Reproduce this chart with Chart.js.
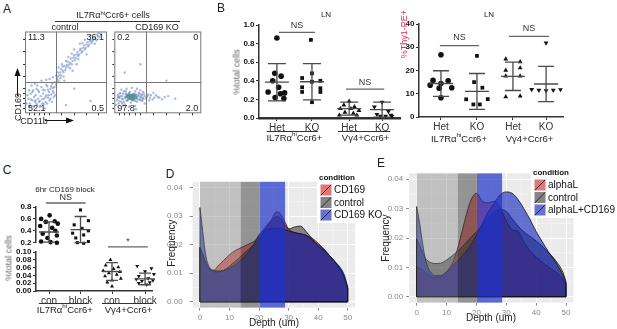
<!DOCTYPE html>
<html>
<head>
<meta charset="utf-8">
<script src="https://cdn.jsdelivr.net/npm/chart.js@4.4.1/dist/chart.umd.min.js"></script>
<style>
  body { margin: 0; background: #fff; }
  #fig { position: relative; width: 617px; height: 329px; overflow: hidden; font-family: "Liberation Sans", Arial, sans-serif; color: #222; }
  #fig canvas { position: absolute; }
  .t { position: absolute; white-space: nowrap; line-height: 1; }
  sup { font-size: 65%; vertical-align: 0; position: relative; top: -0.5em; }
</style>
</head>
<body>
<div id="fig">
<svg width="617" height="329" style="position:absolute;left:0;top:0">
  <line x1="55" y1="21.5" x2="180" y2="21.5" stroke="#333" stroke-width="1"/>
  <line x1="17.5" y1="96" x2="17.5" y2="75" stroke="#111" stroke-width="1"/>
  <polygon points="17.5,68 14.5,76 20.5,76" fill="#111"/>
  <line x1="45" y1="120.5" x2="67" y2="120.5" stroke="#111" stroke-width="1"/>
  <polygon points="74,120.5 66,117.5 66,123.5" fill="#111"/>
</svg>
</div>
<script>
// ---------- A: flow plots, [CD11b, CD169] in % of axis ----------
const controlCells = [[4,18],[6,12],[7,24],[8,8],[9,16],[10,28],[11,20],[12,14],[13,22],[14,30],[15,10],[16,18],
  [17,26],[18,15],[19,21],[20,32],[21,12],[22,24],[23,18],[24,28],[25,14],[26,22],[27,33],[28,19],[29,26],[30,16],
  [31,30],[32,23],[33,36],[34,27],[35,20],[36,38],[5,28],[8,34],[12,36],[3,22],[18,8],[24,6],[15,34],[20,40],[26,41],
  [30,42],[34,44],[38,46],[40,50],[42,47],[44,54],[46,52],[48,58],[50,56],[52,63],[54,60],[56,67],[58,64],[60,71],
  [62,68],[64,75],[66,72],[68,79],[70,76],[72,83],[74,80],[76,87],[78,84],[80,90],[82,88],[84,93],[86,91],[88,96],
  [45,60],[50,64],[55,55],[60,78],[65,66],[70,86],[75,72],[80,95],[41,56],[57,73],[63,60],[73,90],[85,85],[90,98],
  [47,45],[53,69],[67,85],[39,42],[43,43],[58,52],[48,40],[60,30],[80,15],[50,10],
  [2,12],[5,9],[7,17],[9,26],[11,8],[13,16],[14,12],[16,28],[17,14],[19,9],[21,17],[22,29],[23,11],[25,20],[26,35],
  [27,12],[28,29],[29,22],[31,18],[32,33],[33,14],[34,31],[35,25],[36,32],[37,22],[38,35],[39,38],[40,45],[41,40],
  [43,50],[44,46],[46,57],[47,50],[49,53],[51,59],[53,57],[55,62],[57,60],[59,68],[61,65],[63,72],[65,70],[67,77],
  [69,74],[71,80],[73,78],[75,84],[77,82],[79,88],[81,86],[83,90],[87,89],[89,94],[91,93],[93,97]];
const koCells = [[3,16],[4,22],[5,12],[6,19],[7,25],[8,14],[9,21],[10,17],[11,27],[12,11],[13,20],[14,24],[15,15],
  [16,22],[17,18],[18,26],[19,13],[20,20],[21,23],[22,16],[23,21],[24,27],[25,18],[26,14],[27,22],[28,25],[29,17],
  [30,20],[31,23],[32,15],[33,19],[34,24],[36,18],[38,21],[40,16],[42,22],[46,19],[50,20],[55,17],[62,21],[70,18],
  [8,29],[14,30],[20,31],[26,30],[10,9],[17,8],[24,9],[30,28],[5,20],[2,10],[35,12],[45,25],[25,5],[60,40],[30,60],[12,50],
  [4,19],[6,15],[7,21],[9,18],[10,24],[11,14],[12,19],[13,23],[14,16],[15,21],[16,17],[17,25],[18,19],[19,22],[20,16],
  [21,20],[22,24],[23,18],[24,15],[25,23],[26,19],[27,17],[28,21],[29,24],[30,16],[31,19],[32,22],[33,17],[35,21],
  [37,19],[39,23],[41,19],[44,17],[48,22],[52,19],[58,20],[6,24],[9,12],[13,27],[33,26]];
const koCore = [[14,20],[16,19],[18,21],[20,19],[22,20],[24,21],[17,23],[21,17],[19,18],[23,23],
  [15,21],[17,20],[19,22],[21,21],[23,19],[18,18],[20,22],[22,18],[16,22],[25,20]];
const flowTicks = [6,12,18,24,30,45,60,75,90];
const controlGate = [37.8, 37.8];
const koGate = [36.8, 37.8];
const controlQuadrants = ['11.3', '36.1', '52.1', '0.5'];
const koQuadrants = ['0.2', '0', '97.8', '2.0'];

// ---------- B: LN ----------
const bTickLabels = ['Het', 'KO', 'Het', 'KO'];
const groupLabels = ['IL7Rα^hi^Ccr6+', 'Vγ4+Ccr6+'];
const totalTicks = [0, 0.2, 0.4, 0.6, 0.8, 1.0];
const totalVals = [
  [0.86, 0.48, 0.45, 0.40, 0.33, 0.28, 0.27, 0.26, 0.22, 0.21],
  [0.84, 0.48, 0.43, 0.40, 0.39, 0.33, 0.32, 0.28, 0.28, 0.17],
  [0.18, 0.14, 0.12, 0.10, 0.10, 0.08, 0.06, 0.05, 0.03, 0.03],
  [0.17, 0.12, 0.07, 0.04, 0.03, 0.02, 0.02, 0.02]
];
const totalJitter = [
  [0, -0.06, 0.12, -0.12, 0.05, -0.25, 0.22, 0.1, -0.05, 0.2],
  [-0.03, 0, -0.28, 0.24, 0, -0.28, 0.24, -0.28, 0.24, 0],
  [0, -0.15, 0.15, -0.25, 0.05, 0.28, -0.12, 0.12, -0.28, 0.22],
  [0, -0.22, 0.18, -0.15, 0.25, -0.05, 0.28, 0.1]
];
const totalMean = [0.385, 0.39, 0.10, 0.09];
const totalSd = [0.20, 0.195, 0.07, 0.08];

const thyTicks = [0, 10, 20, 30, 40];
const thyVals = [
  [26.8, 15.8, 15.6, 14.4, 13.7, 12.6, 12.4, 8.3],
  [26.3, 15, 12.6, 7.6, 7.7, 5.4, 5.4],
  [24.9, 23.7, 21.1, 20.1, 17.6, 17.6, 8.7, 9],
  [31.9, 11.9, 11.5, 11.3, 11.5, 11.8]
];
const thyJitter = [
  [0, -0.22, 0.2, 0, -0.3, 0.3, -0.05, 0],
  [0, -0.08, 0.15, -0.3, 0.3, -0.1, 0.08],
  [-0.2, 0.2, 0.2, -0.2, -0.2, 0.2, -0.2, 0.2],
  [0, -0.4, -0.2, 0, 0.2, 0.4]
];
const thyMean = [14.4, 11, 17.5, 14.2];
const thySd = [5.5, 7.7, 6.1, 7.6];

// ---------- C: 6hr CD169 block ----------
const cTickLabels = ['con', 'block', 'con', 'block'];
const cTopTicks = [0.2, 0.4, 0.6, 0.8];
const cBottomTicks = [0, 0.02, 0.04, 0.06, 0.08, 0.10];
const blockIL7Con = [0.66, 0.60, 0.56, 0.55, 0.52, 0.48, 0.45, 0.40, 0.35, 0.32, 0.28, 0.22, 0.21, 0.20];
const blockIL7Blk = [0.75, 0.57, 0.50, 0.44, 0.40, 0.36, 0.33, 0.28, 0.22, 0.20, 0.19];
const blockVg4Con = [0.080, 0.066, 0.061, 0.057, 0.052, 0.049, 0.046, 0.042, 0.038, 0.032, 0.027, 0.022, 0.012];
const blockVg4Blk = [0.064, 0.058, 0.050, 0.043, 0.038, 0.032, 0.030, 0.027, 0.025, 0.022, 0.020, 0.016];
const blockJitter = [
  [0.02, -0.25, 0.18, -0.1, 0.28, -0.28, 0.1, 0.2, -0.2, 0.25, -0.05, -0.25, 0.05, 0.25],
  [0, 0.25, -0.2, 0.05, 0.25, -0.25, 0.1, -0.15, 0.25, -0.1, 0.1],
  [-0.05, -0.2, 0.2, 0.05, -0.28, 0.25, -0.1, 0.15, -0.22, 0.28, 0, -0.15, 0],
  [-0.25, 0.2, 0, 0.28, -0.2, 0.1, -0.28, 0.25, -0.1, 0.15, -0.2, 0.05]
];
const blockMean = [0.38, 0.42, 0.050, 0.031];
const blockSd = [0.17, 0.22, 0.023, 0.015];

// ---------- D / E: depth densities ----------
const depth = [0, 1, 2, 3, 4, 5, 6, 8, 10, 12, 14, 16, 18, 20, 22, 24, 26, 27, 28, 30, 32, 34, 36, 38, 40, 42, 44, 46, 48, 49, 50];
const depthTicks = [0, 10, 20, 30, 40, 50];
const freqTicks = [0, 0.01, 0.02, 0.03, 0.04];
const dNames = ['CD169', 'control', 'CD169 KO'];
const dCD169 = [0.019, 0.016, 0.013, 0.0115, 0.011, 0.0112, 0.0125, 0.0145, 0.0165, 0.018, 0.019, 0.020, 0.021, 0.0228,
  0.026, 0.0285, 0.0315, 0.031, 0.0295, 0.0255, 0.0243, 0.0238, 0.0232, 0.0222, 0.0205, 0.0185, 0.016, 0.0135, 0.0105, 0.008, 0.0048];
const dControl = [0.019, 0.0165, 0.014, 0.012, 0.0112, 0.011, 0.0108, 0.011, 0.0125, 0.0142, 0.016, 0.018, 0.0198, 0.022,
  0.025, 0.028, 0.0298, 0.0295, 0.028, 0.0255, 0.0262, 0.0265, 0.0245, 0.022, 0.0195, 0.0178, 0.016, 0.0135, 0.0105, 0.008, 0.0048];
const dKO = [0.033, 0.024, 0.016, 0.0125, 0.011, 0.0105, 0.0105, 0.011, 0.0118, 0.013, 0.0148, 0.017, 0.0198, 0.0235,
  0.0252, 0.0256, 0.0258, 0.0258, 0.0256, 0.0248, 0.0242, 0.0238, 0.0232, 0.0215, 0.020, 0.0182, 0.016, 0.0138, 0.0112, 0.009, 0.0052];
const eNames = ['alphaL', 'control', 'alphaL+CD169'];
const eAlphaL = [0.0102, 0.0098, 0.0092, 0.0082, 0.0074, 0.0068, 0.0065, 0.0068, 0.0085, 0.0115, 0.0175, 0.0255, 0.0325, 0.0352,
  0.0325, 0.032, 0.0325, 0.0318, 0.030, 0.0258, 0.0228, 0.0222, 0.0185, 0.0155, 0.0135, 0.0118, 0.0102, 0.0088, 0.0072, 0.0058, 0.0042];
const eControl = [0.0197, 0.0175, 0.015, 0.013, 0.012, 0.0115, 0.0113, 0.0114, 0.0125, 0.014, 0.0158, 0.0178, 0.020, 0.0222,
  0.0245, 0.0268, 0.0288, 0.0295, 0.0298, 0.029, 0.0265, 0.024, 0.022, 0.0205, 0.019, 0.0172, 0.0152, 0.013, 0.0102, 0.0082, 0.0052];
const eBoth = [0.0307, 0.025, 0.018, 0.0125, 0.0095, 0.008, 0.0072, 0.0072, 0.0085, 0.0105, 0.0125, 0.0148, 0.0175, 0.021,
  0.025, 0.029, 0.032, 0.0335, 0.0348, 0.0357, 0.0352, 0.033, 0.0298, 0.0262, 0.0222, 0.0188, 0.0155, 0.0125, 0.0092, 0.0072, 0.0045];
const dBands = [[0, 13.8], [13.8, 20.3], [20.3, 28.8]];
const eBands = [[0, 13.8], [13.8, 20.2], [20.2, 28.6]];

const condFill = ['rgba(217,17,17,0.55)', 'rgba(43,43,43,0.55)', 'rgba(10,30,185,0.6)'];
const bandFill = ['rgba(128,128,128,0.4)', 'rgba(60,60,60,0.5)', 'rgba(30,50,200,0.7)'];

// ---------------------------------------------------------------
const F = '"Liberation Sans", Arial, sans-serif';
Chart.defaults.font.family = F;
Chart.defaults.animation = false;
Chart.defaults.plugins.legend.display = false;
Chart.defaults.plugins.tooltip.enabled = false;

const fig = document.getElementById('fig');

function sup(s) {
  return s.split('^').map((p, i) => i % 2 ? '<sup>' + p + '</sup>' : p).join('');
}

function txt(html, x, y, size, o) {
  o = o || {};
  const d = document.createElement('div');
  d.className = 't';
  d.innerHTML = html;
  d.style.left = x + 'px';
  d.style.top = y + 'px';
  d.style.fontSize = size + 'px';
  d.style.transform = 'translate(-50%,-50%)' + (o.rot ? ' rotate(-90deg)' : '');
  if (o.color) d.style.color = o.color;
  if (o.bold) d.style.fontWeight = 'bold';
  fig.appendChild(d);
}

function makeCanvas(L, T, W, H) {
  const c = document.createElement('canvas');
  c.width = W;
  c.height = H;
  c.style.left = L + 'px';
  c.style.top = T + 'px';
  c.style.width = W + 'px';
  c.style.height = H + 'px';
  fig.appendChild(c);
  return c;
}

function richText(ctx, s, cx, cy, size) {
  const parts = s.split('^');
  let w = 0;
  parts.forEach((p, i) => {
    ctx.font = (i % 2 ? size * 0.65 : size) + 'px ' + F;
    w += ctx.measureText(p).width;
  });
  let x = cx - w / 2;
  ctx.textAlign = 'left';
  ctx.textBaseline = 'middle';
  parts.forEach((p, i) => {
    const small = i % 2;
    ctx.font = (small ? size * 0.65 : size) + 'px ' + F;
    ctx.fillText(p, x, small ? cy - size * 0.38 : cy);
    x += ctx.measureText(p).width;
  });
}

// ---------- flow plot ----------
function flowPlot(o) {
  const c = makeCanvas(o.L, o.T, o.W, o.H);
  const deco = {
    id: 'flowDeco',
    afterDatasetsDraw(chart) {
      const { ctx, chartArea: a, scales: { x, y } } = chart;
      ctx.save();
      ctx.strokeStyle = '#777';
      ctx.lineWidth = 1;
      ctx.strokeRect(a.left + 0.5, a.top + 0.5, a.width - 1, a.height - 1);
      const qx = Math.round(x.getPixelForValue(o.gate[0])) + 0.5;
      const qy = Math.round(y.getPixelForValue(o.gate[1])) + 0.5;
      ctx.beginPath();
      ctx.moveTo(qx, a.top); ctx.lineTo(qx, a.bottom);
      ctx.moveTo(a.left, qy); ctx.lineTo(a.right, qy);
      ctx.stroke();
      ctx.fillStyle = '#222';
      ctx.font = '9px ' + F;
      ctx.textBaseline = 'top';
      ctx.textAlign = 'left'; ctx.fillText(o.q[0], a.left + 3, a.top + 2);
      ctx.textAlign = 'right'; ctx.fillText(o.q[1], a.right - 3, a.top + 2);
      ctx.textBaseline = 'bottom';
      ctx.textAlign = 'left'; ctx.fillText(o.q[2], a.left + 3, a.bottom);
      ctx.textAlign = 'right'; ctx.fillText(o.q[3], a.right - 3, a.bottom);
      ctx.restore();
    }
  };
  const axis = (fit) => ({
    min: 0, max: 100,
    afterBuildTicks: s => { s.ticks = flowTicks.map(v => ({ value: v })); },
    afterFit: fit,
    ticks: { display: false },
    grid: { drawOnChartArea: false, tickLength: 2, color: '#333' },
    border: { display: false }
  });
  const datasets = [{
    data: o.cells.map(p => ({ x: p[0], y: p[1] })),
    pointRadius: 1.2, backgroundColor: 'rgba(85,115,185,0.5)', borderWidth: 0
  }];
  if (o.core) datasets.push({
    data: o.core.map(p => ({ x: p[0], y: p[1] })),
    pointRadius: 1.5, backgroundColor: 'rgba(80,175,110,0.8)', borderWidth: 0
  });
  new Chart(c, {
    type: 'scatter',
    data: { datasets },
    options: {
      responsive: false, devicePixelRatio: 1,
      layout: { padding: { top: o.pt, right: o.pr, left: 0, bottom: 0 } },
      scales: {
        x: Object.assign(axis(s => { s.height = o.xH; }), { type: 'linear' }),
        y: axis(s => { s.width = o.yW; })
      }
    },
    plugins: [deco]
  });
}

// ---------- dot plot with mean +/- SD ----------
function dotPlot(o) {
  const c = makeCanvas(o.L, o.T, o.W, o.H);
  const styles = ['circle', 'rect', 'triangle', 'triangle'];
  const datasets = o.vals.map((vals, g) => ({
    data: vals.map((v, i) => ({ x: o.pos[g] + o.jit[g][i], y: v })),
    pointStyle: styles[g], rotation: g === 3 ? 180 : 0,
    pointRadius: g === 1 ? o.r * 0.95 : o.r,
    backgroundColor: '#111', borderColor: '#111', borderWidth: 0, clip: false
  }));
  const deco = {
    id: 'dotDeco',
    afterDatasetsDraw(chart) {
      const { ctx, scales: { x, y } } = chart;
      ctx.save();
      ctx.strokeStyle = '#4a4a4a';
      ctx.lineWidth = 1.3;
      o.mean.forEach((m, g) => {
        if (m === null) return;
        const xc = x.getPixelForValue(o.pos[g]);
        const ym = y.getPixelForValue(m);
        const yt = y.getPixelForValue(m + o.sd[g]);
        const yb = y.getPixelForValue(m - o.sd[g]);
        ctx.beginPath();
        ctx.moveTo(xc, yt); ctx.lineTo(xc, yb);
        ctx.moveTo(xc - o.capW, yt); ctx.lineTo(xc + o.capW, yt);
        ctx.moveTo(xc - o.capW, yb); ctx.lineTo(xc + o.capW, yb);
        ctx.moveTo(xc - o.meanW, ym); ctx.lineTo(xc + o.meanW, ym);
        ctx.stroke();
      });
      ctx.strokeStyle = '#666';
      (o.sig || []).forEach(s => {
        const yy = y.getPixelForValue(s[2]);
        const x1 = x.getPixelForValue(s[0]), x2 = x.getPixelForValue(s[1]);
        ctx.beginPath(); ctx.moveTo(x1, yy); ctx.lineTo(x2, yy); ctx.stroke();
        ctx.fillStyle = '#333';
        ctx.font = '9px ' + F;
        ctx.textAlign = 'center';
        ctx.textBaseline = 'middle';
        ctx.fillText(s[3], (x1 + x2) / 2, yy - o.sigGap);
      });
      if (o.groupY) {
        ctx.fillStyle = '#222';
        [[0, 1], [2, 3]].forEach((pair, k) => {
          const cx = (x.getPixelForValue(o.pos[pair[0]]) + x.getPixelForValue(o.pos[pair[1]])) / 2;
          richText(ctx, groupLabels[k], cx, o.groupY - o.T, 9.5);
        });
      }
      if (o.under) {
        ctx.strokeStyle = '#333';
        ctx.lineWidth = 1;
        o.under.forEach(u => {
          const yy = o.underY - o.T;
          ctx.beginPath();
          ctx.moveTo(x.getPixelForValue(u[0]), yy);
          ctx.lineTo(x.getPixelForValue(u[1]), yy);
          ctx.stroke();
        });
      }
      ctx.restore();
    }
  };
  new Chart(c, {
    type: 'scatter',
    data: { datasets },
    options: {
      responsive: false, devicePixelRatio: 1,
      layout: { padding: { top: o.pt, right: o.pr, left: 0, bottom: o.pb || 0 } },
      scales: {
        x: {
          type: 'linear', display: o.showX !== false, min: o.xMin, max: o.xMax,
          afterBuildTicks: s => { s.ticks = o.pos.map(v => ({ value: v })); },
          afterFit: s => { s.height = o.xH; },
          ticks: { autoSkip: false, maxRotation: 0, padding: 1, color: '#333', font: { size: 10 },
                   callback: (v, i) => o.labels[i] },
          grid: { drawOnChartArea: false, color: '#333', tickLength: 3 },
          border: { color: '#333', width: o.xBorder }
        },
        y: {
          type: 'linear', position: 'left', min: o.yMin, max: o.yMax,
          afterBuildTicks: s => { s.ticks = o.yTicks.map(v => ({ value: v })); },
          afterFit: s => { s.width = o.yW; },
          ticks: { autoSkip: false, padding: 1.5, color: '#111', font: { size: 8, weight: 'bold' },
                   callback: v => Number(v).toFixed(o.dec) },
          grid: { drawOnChartArea: false, color: '#333', tickLength: 3 },
          border: { color: '#333', width: 1.5 }
        }
      }
    },
    plugins: [deco]
  });
}

// ---------- ggplot-like density ----------
function densityPlot(o) {
  const c = makeCanvas(o.L, o.T, o.W, o.H);
  const n = o.series.length;
  const datasets = o.series.map((vals, k) => ({
    label: o.names[k],
    order: n - k,
    data: depth.map((d, i) => ({ x: d, y: vals[i] })),
    fill: 'origin', backgroundColor: condFill[k], borderColor: '#111', borderWidth: 0.8,
    pointRadius: 0, cubicInterpolationMode: 'monotone'
  }));
  const deco = {
    id: 'ggDeco',
    beforeDraw(chart) {
      const { ctx, chartArea: a, scales: { x, y } } = chart;
      ctx.save();
      ctx.fillStyle = '#ebebeb';
      ctx.fillRect(a.left, a.top, a.width, a.height);
      ctx.strokeStyle = '#f6f6f6';
      ctx.lineWidth = 0.6;
      for (let i = 0; i < depthTicks.length - 1; i++) {
        const px = x.getPixelForValue((depthTicks[i] + depthTicks[i + 1]) / 2);
        ctx.beginPath(); ctx.moveTo(px, a.top); ctx.lineTo(px, a.bottom); ctx.stroke();
      }
      for (let i = 0; i < freqTicks.length - 1; i++) {
        const py = y.getPixelForValue((freqTicks[i] + freqTicks[i + 1]) / 2);
        ctx.beginPath(); ctx.moveTo(a.left, py); ctx.lineTo(a.right, py); ctx.stroke();
      }
      ctx.restore();
    },
    afterDatasetsDraw(chart) {
      const { ctx, chartArea: a, scales: { x, y } } = chart;
      ctx.save();
      ctx.strokeStyle = '#111';
      ctx.lineWidth = 0.8;
      const y0 = y.getPixelForValue(0);
      const xa = x.getPixelForValue(depth[0]), xb = x.getPixelForValue(depth[depth.length - 1]);
      o.series.forEach(vals => {
        ctx.beginPath();
        ctx.moveTo(xa, y.getPixelForValue(vals[0]));
        ctx.lineTo(xa, y0);
        ctx.lineTo(xb, y0);
        ctx.lineTo(xb, y.getPixelForValue(vals[vals.length - 1]));
        ctx.stroke();
      });
      o.bands.forEach((b, k) => {
        const x1 = x.getPixelForValue(b[0]), x2 = x.getPixelForValue(b[1]);
        ctx.fillStyle = bandFill[k];
        ctx.fillRect(x1, a.top, x2 - x1, a.height);
      });
      ctx.restore();
    },
    afterDraw(chart) {
      const ctx = chart.ctx;
      const lx = o.leg[0] - o.L, ly = o.leg[1] - o.T;
      ctx.save();
      ctx.fillStyle = '#fff';
      ctx.fillRect(lx, ly, o.leg[2], o.leg[3]);
      ctx.fillStyle = '#111';
      ctx.font = 'bold 8px ' + F;
      ctx.textAlign = 'left';
      ctx.textBaseline = 'middle';
      ctx.fillText('condition', lx + 2, ly + 7);
      chart.data.datasets.forEach((ds, k) => {
        const kx = lx + 3, ky = ly + 13 + k * 12.5, s = 12;
        ctx.fillStyle = '#f2f2f2';
        ctx.fillRect(kx, ky, s, s);
        ctx.fillStyle = ds.backgroundColor;
        ctx.fillRect(kx, ky, s, s);
        ctx.strokeStyle = '#111';
        ctx.lineWidth = 0.8;
        ctx.beginPath(); ctx.moveTo(kx, ky + s); ctx.lineTo(kx + s, ky); ctx.stroke();
        ctx.strokeStyle = '#fff';
        ctx.lineWidth = 1;
        ctx.strokeRect(kx, ky, s, s);
        ctx.fillStyle = '#111';
        ctx.font = '10px ' + F;
        ctx.fillText(ds.label, kx + s + 2, ky + s / 2 + 0.5);
      });
      ctx.restore();
    }
  };
  new Chart(c, {
    type: 'line',
    data: { datasets },
    options: {
      responsive: false, devicePixelRatio: 1,
      layout: { padding: { top: o.pt, right: o.pr, left: 0, bottom: 0 } },
      scales: {
        x: {
          type: 'linear', min: -2.5, max: 52.5,
          afterBuildTicks: s => { s.ticks = depthTicks.map(v => ({ value: v })); },
          afterFit: s => { s.height = o.xH; },
          ticks: { autoSkip: false, maxRotation: 0, padding: 2, color: '#888', font: { size: 8 } },
          grid: { color: '#fff', lineWidth: 1, tickColor: '#888', tickLength: 3 },
          border: { display: false }
        },
        y: {
          min: -0.002, max: 0.042,
          afterBuildTicks: s => { s.ticks = freqTicks.map(v => ({ value: v })); },
          afterFit: s => { s.width = o.yW; },
          ticks: { autoSkip: false, padding: o.yPad, color: '#888', font: { size: 8 }, callback: v => v.toFixed(2) },
          grid: { color: '#fff', lineWidth: 1, tickColor: '#888', tickLength: 3 },
          border: { display: false }
        }
      }
    },
    plugins: [deco]
  });
}

// ---------- panel A ----------
flowPlot({ L: 19, T: 26, W: 94, H: 93, yW: 6, xH: 5.7, pt: 5.5, pr: 6,
           cells: controlCells, gate: controlGate, q: controlQuadrants });
flowPlot({ L: 108, T: 26, W: 99, H: 93, yW: 6.3, xH: 5.7, pt: 5.5, pr: 5.7,
           cells: koCells, core: koCore, gate: koGate, q: koQuadrants });
txt('A', 7, 9, 12);
txt(sup('IL7Rα^hi^Ccr6+ cells'), 113, 15, 9);
txt('control', 65, 27, 9);
txt('CD169 KO', 157, 27, 9);
txt('CD169', 17.5, 107, 9, { rot: true });
txt('CD11b', 34, 120.5, 9);

// ---------- panel B ----------
dotPlot({ L: 230, T: 15, W: 176, H: 140, yW: 29, xH: 37, pt: 10, pr: 6,
          xMin: 0.49, xMax: 4.51, pos: [1, 2, 3.06, 4], labels: bTickLabels,
          yMin: 0, yMax: 1, yTicks: totalTicks, dec: 1, xBorder: 2.5,
          vals: totalVals, jit: totalJitter, mean: totalMean, sd: totalSd,
          r: 2.8, capW: 9, meanW: 12, sigGap: 7,
          sig: [[1.06, 2.09, 0.92, 'NS'], [2.97, 4.06, 0.31, 'NS']],
          groupY: 138, underY: 131.5, under: [[0.71, 2.17], [2.74, 4.23]] });
dotPlot({ L: 395, T: 14, W: 175, H: 140, yW: 24, xH: 37, pt: 10, pr: 7,
          xMin: 0.39, xMax: 4.39, pos: [1, 2, 3, 3.92], labels: bTickLabels,
          yMin: 0, yMax: 40, yTicks: thyTicks, dec: 0, xBorder: 1.5,
          vals: thyVals, jit: thyJitter, mean: thyMean, sd: thySd,
          r: 2.8, capW: 8, meanW: 12, sigGap: 8,
          sig: [[0.97, 2.06, 30.7, 'NS'], [2.89, 4.0, 34.7, 'NS']],
          groupY: 139 });
txt('B', 221, 8, 12);
txt('LN', 326, 15, 8);
txt('LN', 489, 15, 8);
txt('%total cells', 237, 72, 9, { rot: true, color: '#666' });
txt('%Thy1-PE+', 404, 34, 9, { rot: true, color: '#e0304a' });

// ---------- panel C (broken axis) ----------
dotPlot({ L: 10, T: 193, W: 150, H: 56, yW: 26, xH: 0, pt: 14, pr: 8, pb: 6, showX: false,
          xMin: 0.587, xMax: 4.27, pos: [1, 2, 3, 4.05], labels: cTickLabels,
          yMin: 0.2, yMax: 0.8, yTicks: cTopTicks, dec: 1, xBorder: 1.5,
          vals: [blockIL7Con, blockIL7Blk, [], []], jit: blockJitter,
          mean: [blockMean[0], blockMean[1], null, null], sd: blockSd,
          r: 2.3, capW: 6, meanW: 10, sigGap: 5,
          sig: [[0.9, 2.16, 0.867, 'NS']] });
dotPlot({ L: 10, T: 236, W: 150, H: 93, yW: 26, xH: 38, pt: 16, pr: 8,
          xMin: 0.587, xMax: 4.27, pos: [1, 2, 3, 4.05], labels: cTickLabels,
          yMin: 0, yMax: 0.10, yTicks: cBottomTicks, dec: 2, xBorder: 1.5,
          vals: [[], [], blockVg4Con, blockVg4Blk], jit: blockJitter,
          mean: [null, null, blockMean[2], blockMean[3]], sd: blockSd,
          r: 2.3, capW: 6, meanW: 10, sigGap: 5,
          sig: [[2.87, 4.14, 0.113, '*']],
          groupY: 310, underY: 303.5, under: [[0.68, 2.24], [2.68, 4.3]] });
txt('C', 7, 170, 12);
txt('6hr CD169 block', 65, 190, 8);
txt('%total cells', 9, 258, 9, { rot: true, color: '#666' });

// ---------- panels D, E ----------
densityPlot({ L: 165, T: 170, W: 225, H: 159, yW: 27.6, xH: 21.4, pt: 8.4, pr: 34.9, yPad: 7,
              series: [dCD169, dControl, dKO], names: dNames, bands: dBands, leg: [317, 171, 69, 52] });
densityPlot({ L: 385, T: 164, W: 232, H: 165, yW: 24.2, xH: 26.4, pt: 9.4, pr: 43.5, yPad: 3,
              series: [eAlphaL, eControl, eBoth], names: eNames, bands: eBands, leg: [531, 166, 86, 52] });
txt('D', 170, 174, 12);
txt('Frequency', 172, 243, 10, { rot: true });
txt('Depth (um)', 274, 323, 10);
txt('E', 381, 163, 12);
txt('Frequency', 386, 238, 10, { rot: true });
txt('Depth (um)', 491, 318, 10);
</script>
</body>
</html>
